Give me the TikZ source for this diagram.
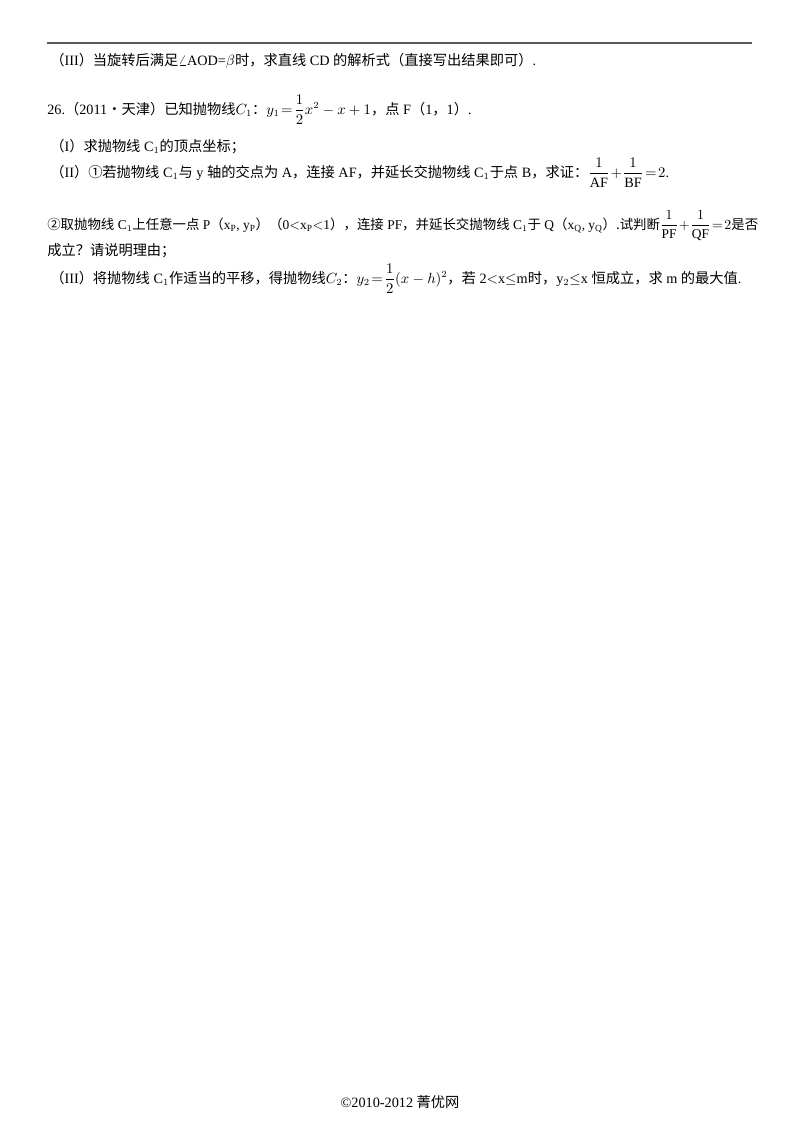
\documentclass[tikz,border=0pt]{standalone}
\usepackage{amsmath}
\usepackage{graphicx}
\usepackage{fontspec}
\setmainfont{Liberation Serif}
\newfontfamily\cjk{Noto Sans CJK SC}
\newcommand{\zh}[1]{{\cjk\fontsize{10.6}{12}\selectfont #1}}
\begin{document}
\begin{tikzpicture}[x=0.744pt,y=-0.744pt,
  txt/.style={anchor=base west,inner sep=0pt,font=\fontsize{10.6}{12}\selectfont}]
\useasboundingbox (0,0) rectangle (800,1132);
\draw[line width=1pt,gray!70!black] (47,43) -- (752,43);
\node[txt] (l1) at (50,65) {\zh{（}III\zh{）当旋转后满足}$\angle$AOD=$\beta$\zh{时，求直线} CD \zh{的解析式（直接写出结果即可）}.};
\node[txt] (l2) at (47,114) {26.\zh{（}2011\zh{•天津）已知抛物线}$C_1$\zh{：}$y_1\!=\!\dfrac{1}{2}x^{2}-x+1$\zh{，点} F\zh{（}1\zh{，}1\zh{）}.};
\node[txt] (l3) at (50,151) {\zh{（}I\zh{）求抛物线} C$_1$\zh{的顶点坐标；}};
\node[txt] (l4) at (50,177) {\zh{（}II\zh{）①若抛物线} C$_1$\zh{与} y \zh{轴的交点为} A\zh{，连接} AF\zh{，并延长交抛物线} C$_1$\zh{于点} B\zh{，求证：}$\dfrac{1}{\mathrm{AF}}\!+\!\dfrac{1}{\mathrm{BF}}\!=\!2$.};
\node[txt] (l5) at (47,229) {\resizebox{529pt}{!}{\zh{②取抛物线} C$_1$\zh{上任意一点} P\zh{（}x$_\mathrm{P}$, y$_\mathrm{P}$\zh{）（}0$<$x$_\mathrm{P}$$<$1\zh{），连接} PF\zh{，并延长交抛物线} C$_1$\zh{于} Q\zh{（}x$_\mathrm{Q}$, y$_\mathrm{Q}$\zh{）.试判断}$\dfrac{1}{\mathrm{PF}}\!+\!\dfrac{1}{\mathrm{QF}}\!=\!2$\zh{是否}}};
\node[txt] (l6) at (47,255) {\zh{成立？请说明理由；}};
\node[txt] (l7) at (50,283) {\zh{（}III\zh{）将抛物线} C$_1$\zh{作适当的平移，得抛物线}$C_2$\zh{：}$y_2\!=\!\dfrac{1}{2}(x-h)^{2}$\zh{，若} 2$<$x$\leq$m\zh{时，}y$_2$$\leq$x \zh{恒成立，求} m \zh{的最大值}.};
\node[txt,anchor=base] (ft) at (400,1107) {\textcopyright 2010-2012 \zh{菁优网}};
\end{tikzpicture}
\end{document}
